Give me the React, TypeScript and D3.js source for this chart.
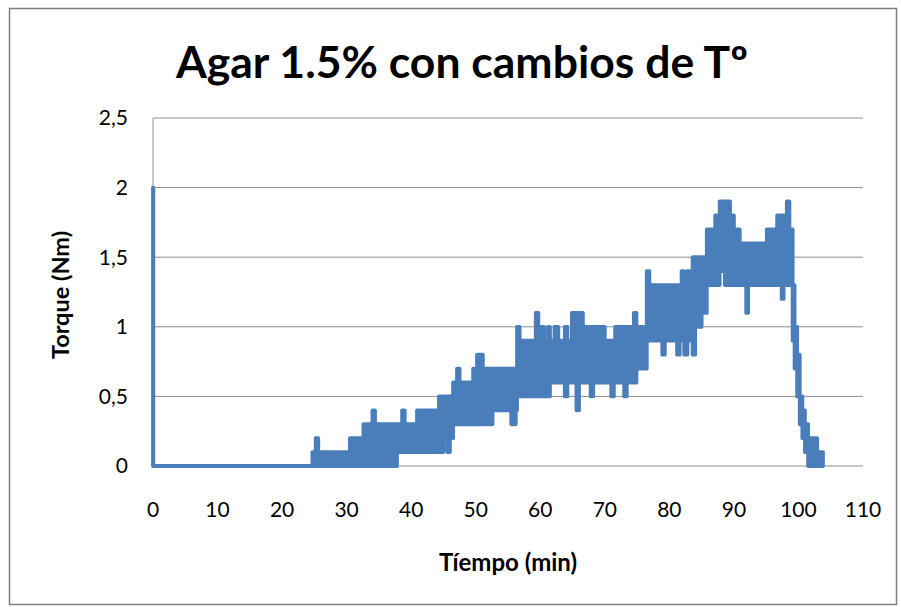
import React from "react";
import * as d3 from "d3";

// Envelope of the oscillating torque signal (step-after segments)
const timeMin: number[] = [
  0, 0.05, 24.7, 25.2, 25.6, 30.5, 32.1, 32.6, 34.0, 34.4, 37.8, 38.6, 39.0, 40.9, 44.3, 44.8,
  45.0, 45.6, 46.0, 46.5, 47.1, 47.5, 49.6, 50.2, 51.1, 51.7, 52.0, 52.6, 55.5, 56.2,
  56.4, 56.8, 59.3, 59.7, 60.2, 60.6, 61.2, 61.5, 62.2, 62.8, 63.8, 64.2, 64.9, 65.6, 66.0,
  66.6, 67.8, 68.2, 70.0, 71.0, 71.4, 71.6, 73.0, 73.4, 74.2, 74.5, 74.9,
  76.5, 76.9, 78.9, 79.3, 81.2, 81.6, 81.9, 82.3, 82.8, 83.2, 83.6, 84.0, 85.0,
  85.8, 87.1, 87.8, 88.6, 89.4, 90.0, 90.9, 91.9, 92.2, 95.1, 96.7, 97.4, 97.7, 98.2, 98.6,
  99.1, 99.4, 99.8, 100.2, 100.6, 101.0, 101.5, 102.9, 103.8,
];
const torqueLow: number[] = [
  0, 0, 0, 0, 0, 0, 0, 0, 0, 0, 0.1, 0.1, 0.1, 0.1, 0.1, 0.1,
  0.2, 0.1, 0.2, 0.3, 0.3, 0.3, 0.3, 0.3, 0.3, 0.4, 0.3, 0.4, 0.3, 0.4,
  0.5, 0.5, 0.5, 0.5, 0.5, 0.5, 0.5, 0.6, 0.6, 0.6, 0.5, 0.6, 0.6, 0.4, 0.6,
  0.6, 0.5, 0.6, 0.6, 0.5, 0.6, 0.6, 0.5, 0.6, 0.6, 0.6, 0.7,
  0.9, 0.9, 0.8, 0.9, 0.8, 0.9, 0.9, 0.8, 0.9, 0.9, 0.8, 1.0, 1.1,
  1.3, 1.3, 1.4, 1.3, 1.3, 1.3, 1.3, 1.1, 1.3, 1.3, 1.3, 1.2, 1.3, 1.3, 1.3,
  0.9, 0.7, 0.5, 0.3, 0.2, 0.1, 0, 0, 0,
];
const torqueHigh: number[] = [
  2, 0, 0.1, 0.2, 0.1, 0.2, 0.2, 0.3, 0.4, 0.3, 0.3, 0.4, 0.3, 0.4, 0.5, 0.4,
  0.5, 0.5, 0.5, 0.6, 0.7, 0.6, 0.7, 0.8, 0.7, 0.7, 0.7, 0.7, 0.7, 0.7,
  1.0, 0.9, 1.1, 0.9, 1.0, 0.9, 1.0, 0.9, 1.0, 0.9, 1.0, 0.9, 1.1, 1.1, 1.1,
  1.0, 1.0, 1.0, 0.9, 0.9, 0.9, 1.0, 1.0, 1.0, 0.9, 1.1, 1.0,
  1.4, 1.3, 1.3, 1.3, 1.3, 1.3, 1.4, 1.3, 1.4, 1.3, 1.5, 1.5, 1.5,
  1.7, 1.8, 1.9, 1.9, 1.8, 1.7, 1.6, 1.6, 1.6, 1.7, 1.8, 1.8, 1.8, 1.9, 1.7,
  1.3, 1.0, 0.8, 0.5, 0.4, 0.3, 0.2, 0.1, 0.1,
];

const yTicks: number[] = [0, 0.5, 1, 1.5, 2, 2.5];
const yTickLabels: string[] = ["0", "0,5", "1", "1,5", "2", "2,5"];
const xTicks: number[] = [0, 10, 20, 30, 40, 50, 60, 70, 80, 90, 100, 110];

const TITLE = "Agar 1.5% con cambios de Tº";
const X_TITLE = "Tíempo (min)";
const Y_TITLE = "Torque (Nm)";

const W = 901;
const H = 607;
const BLUE = "#4a7ebb";
const GRID = "#8e8e8e";
const FONT = "Lato, 'Open Sans', sans-serif";

export default function App() {
  const x = d3.scaleLinear().domain([0, 110]).range([153, 863]);
  const y = d3.scaleLinear().domain([0, 2.5]).range([466, 118]);
  const idx = timeMin.map((_, i) => i);
  const area = d3
    .area<number>()
    .x((i) => x(timeMin[i]))
    .y0((i) => y(torqueLow[i]))
    .y1((i) => y(torqueHigh[i]))
    .curve(d3.curveStepAfter);

  return (
    <svg
      width={W}
      height={H}
      style={{ position: "absolute", left: 0, top: 0, background: "#fff" }}
      fontFamily={FONT}
    >
      <rect x={0} y={0} width={W} height={H} fill="#fff" />
      <rect x={9.5} y={8.5} width={887} height={596} fill="none" stroke="#7f7f7f" strokeWidth={1.5} />
      <text x={462} y={78} textAnchor="middle" fontSize={44.5} fontWeight={700} fill="#000">
        {TITLE}
      </text>
      {yTicks.map((v) => (
        <line key={"g" + v} x1={x(0)} x2={x(110)} y1={y(v)} y2={y(v)} stroke={GRID} strokeWidth={1} />
      ))}
      <line x1={x(0)} x2={x(0)} y1={y(2.5)} y2={y(0)} stroke={GRID} strokeWidth={1} />
      {yTicks.map((v, i) => (
        <text key={"yl" + v} x={128} y={y(v)} dy="0.35em" textAnchor="end" fontSize={21} fill="#000">
          {yTickLabels[i]}
        </text>
      ))}
      {xTicks.map((v) => (
        <text key={"xl" + v} x={x(v)} y={517} textAnchor="middle" fontSize={21} fill="#000">
          {String(v)}
        </text>
      ))}
      <path
        d={area(idx) || ""}
        fill={BLUE}
        stroke={BLUE}
        strokeWidth={3.8}
        strokeLinejoin="round"
      />
      <text x={508} y={571} textAnchor="middle" fontSize={24} fontWeight={700} fill="#000">
        {X_TITLE}
      </text>
      <text
        transform={`translate(69,295) rotate(-90)`}
        textAnchor="middle"
        fontSize={23.5}
        fontWeight={700}
        fill="#000"
      >
        {Y_TITLE}
      </text>
    </svg>
  );
}
